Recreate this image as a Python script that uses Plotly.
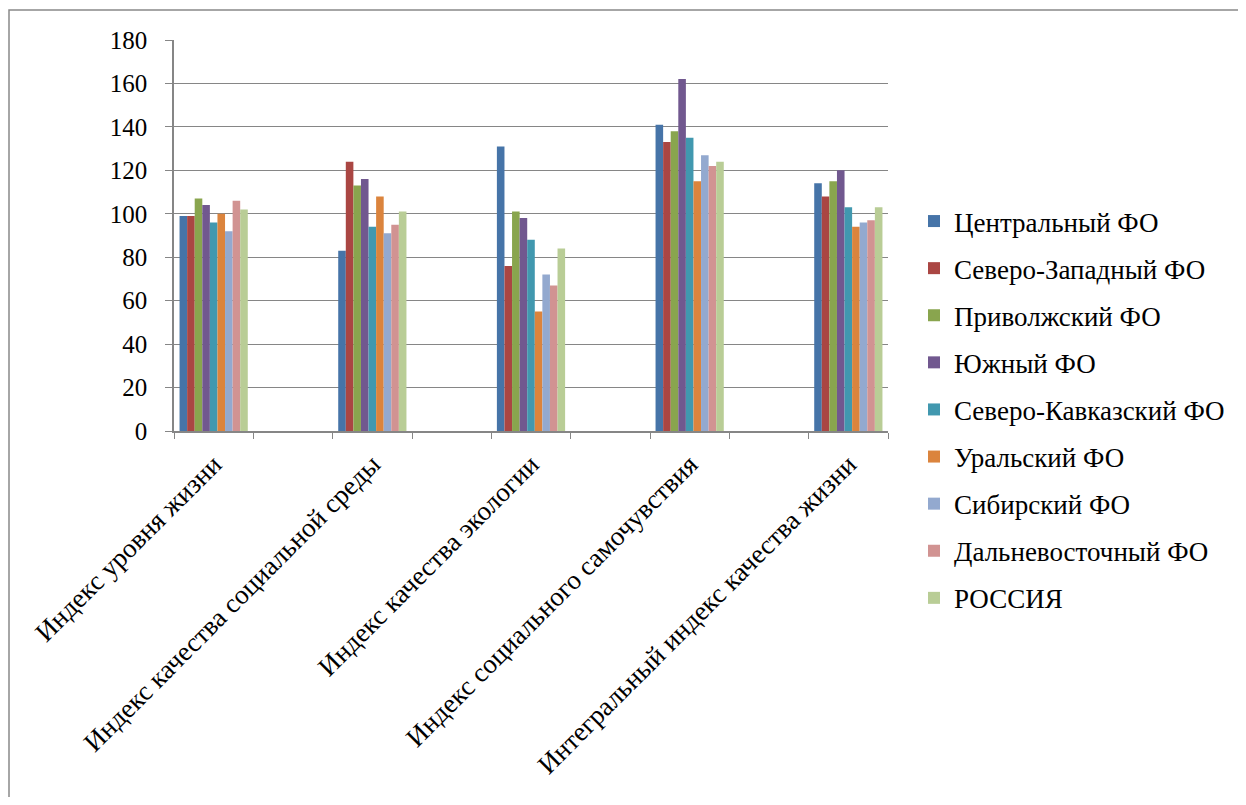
import plotly.graph_objects as go

categories = [
    "Индекс уровня жизни",
    "Индекс качества социальной среды",
    "Индекс качества экологии",
    "Индекс социального самочувствия",
    "Интегральный индекс качества жизни",
]

series_names = [
    "Центральный ФО",
    "Северо-Западный ФО",
    "Приволжский ФО",
    "Южный ФО",
    "Северо-Кавказский ФО",
    "Уральский ФО",
    "Сибирский ФО",
    "Дальневосточный ФО",
    "РОССИЯ",
]

central = [99, 83, 131, 141, 114]
northwest = [99, 124, 76, 133, 108]
volga = [107, 113, 101, 138, 115]
south = [104, 116, 98, 162, 120]
ncaucasus = [96, 94, 88, 135, 103]
ural = [100, 108, 55, 115, 94]
siberia = [92, 91, 72, 127, 96]
fareast = [106, 95, 67, 122, 97]
russia = [102, 101, 84, 124, 103]

series_values = [central, northwest, volga, south, ncaucasus, ural, siberia, fareast, russia]

colors = ["#4674A8", "#AA4643", "#89A54E", "#71588F", "#4198AF",
          "#DB843D", "#93A9CF", "#D19392", "#B9CD96"]

y_ticks = [0, 20, 40, 60, 80, 100, 120, 140, 160, 180]

# category order with empty spacer categories between named ones (as in source sheet)
cat_order = []
for i, c in enumerate(categories):
    cat_order.append(c)
    if i < len(categories) - 1:
        cat_order.append(" " * (i + 1))

fig = go.Figure()
for name, vals, col in zip(series_names, series_values, colors):
    fig.add_trace(go.Bar(
        x=categories, y=vals, name=name,
        marker=dict(color=col, line=dict(width=0)),
        legendgroup=name,
    ))

OFF = 8  # page body margin
W, H = 1246 - 2 * OFF, 805 - 2 * OFF
# plot area in page pixels: left 174, right 888, top 40, bottom 431
L, T = 174 - OFF, 40 - OFF
R = W - (888 - OFF)
B = H - (431 - OFF)
pw, ph = W - L - R, H - T - B

def px_x(p):
    return (p - OFF - L) / pw

def px_y(p):
    return (H - B - (p - OFF)) / ph

serif = "Liberation Serif"

fig.update_layout(
    width=W, height=H,
    margin=dict(l=L, r=R, t=T, b=B, autoexpand=False),
    barmode="group",
    bargap=0.14,
    bargroupgap=0,
    paper_bgcolor="white",
    plot_bgcolor="white",
    font=dict(family=serif, size=24, color="black"),
    legend=dict(
        x=px_x(914), xanchor="left",
        y=px_y(197), yanchor="top",
        font=dict(family=serif, size=27, color="black"),
        traceorder="grouped",
        tracegroupgap=9,
        itemwidth=30,
        maxheight=700,
        bgcolor="rgba(0,0,0,0)",
    ),
    xaxis=dict(
        type="category",
        categoryorder="array",
        categoryarray=cat_order,
        tickson="boundaries",
        ticks="outside", ticklen=6, tickcolor="#868686",
        showline=True, linecolor="#868686", linewidth=1.5,
        showgrid=False,
        tickangle=-45,
        tickfont=dict(family=serif, size=27, color="black"),
        ticklabelstandoff=5,
        range=[-0.5, len(cat_order) - 0.5],
    ),
    yaxis=dict(
        range=[0, 180],
        tickvals=y_ticks,
        ticks="outside", ticklen=7, tickcolor="#868686",
        showline=True, linecolor="#868686", linewidth=1.5,
        showgrid=True, gridcolor="#868686", gridwidth=1.2,
        zeroline=False,
        tickfont=dict(family=serif, size=25, color="black"),
        ticklabelstandoff=13,
    ),
    shapes=[dict(
        type="rect", xref="paper", yref="paper",
        x0=px_x(9), x1=px_x(1260), y0=px_y(840), y1=px_y(10),
        line=dict(color="#898989", width=1.5), fillcolor="rgba(0,0,0,0)",
        layer="below",
    )],
)

fig.write_html("out.html")
